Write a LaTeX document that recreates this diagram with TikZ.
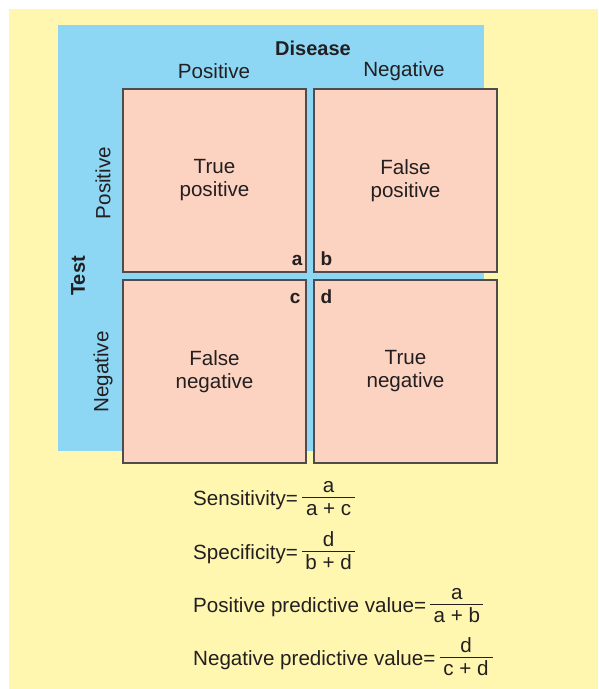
\documentclass[tikz,border=0pt]{standalone}
\usepackage{fontspec}
\setmainfont{Liberation Sans}
\usetikzlibrary{calc}

\definecolor{paleyellow}{RGB}{255,247,176}
\definecolor{skyblue}{RGB}{141,215,245}
\definecolor{salmon}{RGB}{252,211,193}
\definecolor{inkgray}{RGB}{35,31,32}

\tikzset{
  txt/.style={text=inkgray, font=\fontsize{20.6}{23}\selectfont, inner sep=0pt},
  heading/.style={txt, font=\fontsize{20}{23}\selectfont\bfseries},
  cell/.style={txt, draw=inkgray!80, line width=1.1pt, fill=salmon,
    minimum width=183pt, minimum height=183pt, align=center},
  corner/.style={txt, font=\fontsize{19}{20}\selectfont\bfseries},
  fracbar/.style={draw=inkgray, line width=0.9pt}
}

\begin{document}
\begin{tikzpicture}[x=1pt, y=-1pt]
    \useasboundingbox (0,0) rectangle (598,689);

    % Fonds
    \fill[paleyellow] (9,9) rectangle (598,689);
    \fill[skyblue] (58,25) rectangle (484,451);

    % Titres
    \node[heading] (disease) at (313,48) {Disease};
    \node[txt] (dpos) at (214,71) {Positive};
    \node[txt] (dneg) at (404,71) {Negative};
    \node[heading, rotate=90] (test) at (78,276) {Test};
    \node[txt, rotate=90] (tpos) at (103,183) {Positive};
    \node[txt, rotate=90] (tneg) at (103,372) {Negative};

    % Cases du tableau
    \node[cell] (tp) at (214.5,180.5) {True\\positive};
    \node[cell] (fp) at (405.5,180.5) {False\\positive};
    \node[cell] (fn) at (214.5,371.5) {False\\negative};
    \node[cell] (tn) at (405.5,371.5) {True\\negative};

    % Lettres des coins
    \node[corner, anchor=base east, xshift=-4pt, yshift=7pt] (la) at (tp.south east) {a};
    \node[corner, anchor=base west, xshift=7pt, yshift=7pt] (lb) at (fp.south west) {b};
    \node[corner, anchor=base east, xshift=-6pt, yshift=-24pt] (lc) at (fn.north east) {c};
    \node[corner, anchor=base west, xshift=7pt, yshift=-24pt] (ld) at (tn.north west) {d};

    % Formules
    \foreach \nm/\lbl/\num/\den/\yy in {sens/Sensitivity=/a/a + c/497,
        spec/Specificity=/d/b + d/551,
        ppv/Positive predictive value=/a/a + b/604,
        npv/Negative predictive value=/d/c + d/657} {
      \node[txt, anchor=base west] (\nm) at (193,\yy+8) {\lbl};
      \coordinate (\nm-l) at ([xshift=4pt, yshift=8pt]\nm.base east);
      \coordinate (\nm-r) at ([xshift=53pt]\nm-l);
      \draw[fracbar] (\nm-l) -- (\nm-r);
      \node[txt, anchor=base] (\nm-num) at ($(\nm-l)!0.5!(\nm-r)+(0,-5)$) {\num};
      \node[txt, anchor=base] (\nm-den) at ($(\nm-l)!0.5!(\nm-r)+(0,18)$) {\den};
    }
\end{tikzpicture}
\end{document}
